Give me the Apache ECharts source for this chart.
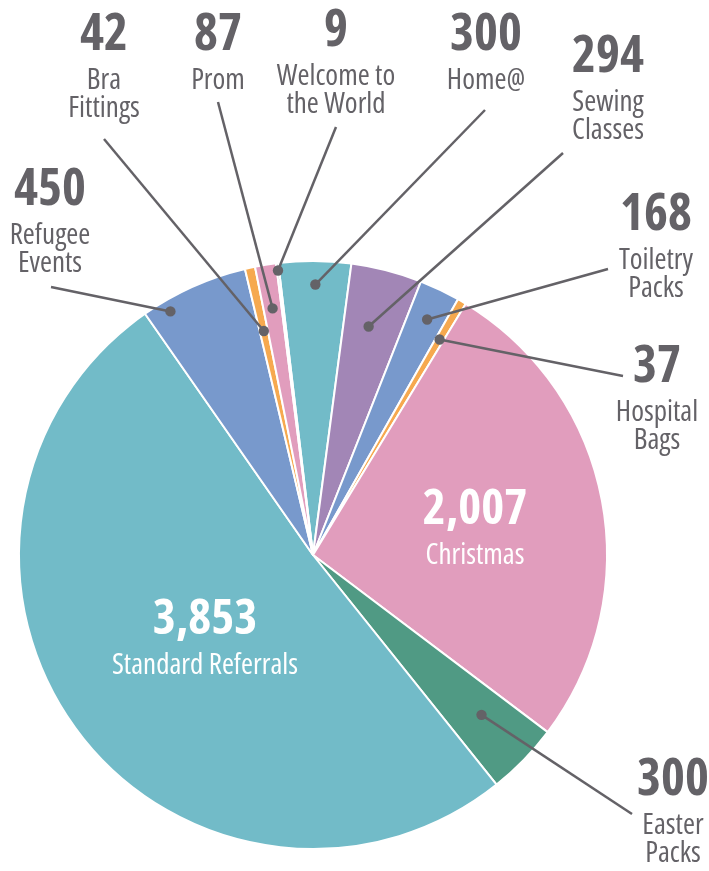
<!DOCTYPE html>
<html><head><meta charset="utf-8">
<script src="https://cdn.jsdelivr.net/npm/echarts@6/dist/echarts.min.js"></script>
<style>html,body{margin:0;padding:0;background:#fff}#c{width:709px;height:871px}</style>
</head><body><div id="c"></div>
<script>
// ---- data ----
const categories = ['Home@','Sewing Classes','Toiletry Packs','Hospital Bags','Christmas','Easter Packs','Standard Referrals','Refugee Events','Bra Fittings','Prom','Welcome to the World'];
const values = [300,294,168,37,2007,300,3853,450,42,87,9];
const labelNames = ['Home@','Sewing\nClasses','Toiletry\nPacks','Hospital\nBags','Christmas','Easter\nPacks','Standard Referrals','Refugee\nEvents','Bra\nFittings','Prom','Welcome to\nthe World'];
const colors = ['#72bbc8','#a286b6','#7899cc','#f6a94f','#e19dbd','#509a84','#72bbc8','#7899cc','#f6a94f','#e19dbd','#509a84'];

// ---- layout (label number centre, leader-line end, dot: [fraction along slice, fraction of radius]) ----
const labelLayoutMap = {
  'Home@':               {num:[486,35],  end:[485,110], dot:[0.51,0.92]},
  'Sewing Classes':      {num:[608,57],  end:[563,153], dot:[0.44,0.80]},
  'Toiletry Packs':      {num:[656,215], end:[608,269], dot:[0.54,0.89]},
  'Hospital Bags':       {num:[657,367], end:[623,376], dot:[0.5,0.85]},
  'Christmas':           {num:[475,510], inside:true},
  'Easter Packs':        {num:[673,780], end:[632,814], dot:[0.45,0.79]},
  'Standard Referrals':  {num:[205,620], inside:true},
  'Refugee Events':      {num:[50,190],  end:[51,287],  dot:[0.21,0.96]},
  'Bra Fittings':        {num:[104,35],  end:[104,139], dot:[0.5,0.78]},
  'Prom':                {num:[218,35],  end:[218,102], dot:[0.5,0.85]},
  'Welcome to the World':{num:[336,31],  end:[336,127], dot:[0.5,0.975]}
};

const FONT = "'Open Sans','Noto Sans',sans-serif";
const STRETCH = 'condensed';
const GREY = '#646267';
const chart = echarts.init(document.getElementById('c'), null, {renderer:'canvas'});

function dotPoint(i){
  const L = labelLayoutMap[categories[i]];
  const data = chart.getModel().getSeriesByIndex(0).getData();
  const ly = data.getItemLayout(i);
  const a = ly.startAngle + L.dot[0]*(ly.endAngle - ly.startAngle);
  const rr = ly.r * L.dot[1];
  return [ly.cx + rr*Math.cos(a), ly.cy + rr*Math.sin(a)];
}

const option = {
  backgroundColor:'#fff',
  animation:false,
  series:[{
    type:'pie',
    center:[313,555],
    radius:[0,294],
    startAngle:96.8,
    clockwise:true,
    avoidLabelOverlap:false,
    emphasis:{disabled:true},
    itemStyle:{borderColor:'#fff', borderWidth:2},
    label:{
      show:true,
      position:'outside',
      formatter:function(p){
        const L = labelLayoutMap[p.name];
        const v = p.value.toLocaleString('en-US');
        const n = labelNames[p.dataIndex];
        return L.inside ? '{vi|'+v+'}\n{ni|'+n+'}' : '{v|'+v+'}\n{n|'+n+'}';
      },
      rich:{
        v:{fontFamily:FONT, fontStyle:STRETCH, fontSize:51, fontWeight:'bold', lineHeight:64, color:GREY},
        n:{fontFamily:FONT, fontStyle:STRETCH, fontSize:29, fontWeight:500, lineHeight:28, color:GREY},
        vi:{fontFamily:FONT, fontStyle:STRETCH, fontSize:49, fontWeight:'bold', lineHeight:64, color:'#fff'},
        ni:{fontFamily:FONT, fontStyle:STRETCH, fontSize:29, fontWeight:500, lineHeight:28, color:'#fff'}
      }
    },
    labelLine:{show:false},
    labelLayout:function(p){
      const L = labelLayoutMap[categories[p.dataIndex]];
      return {x:L.num[0], y:L.num[1]-32, align:'center', verticalAlign:'top'};
    },
    data: categories.map(function(c,i){
      const L = labelLayoutMap[c];
      const item = {name:c, value:values[i], itemStyle:{color:colors[i]}};
      if(L.inside){ item.label = {position:'inside'}; }
      return item;
    })
  }]
};
chart.setOption(option);

// leader lines and dots drawn over the slices, placed from the pie's own layout
const marks = [];
categories.forEach(function(c,i){
  const L = labelLayoutMap[c];
  if(L.inside) return;
  const p = dotPoint(i);
  marks.push({type:'polyline', z:100, silent:true, shape:{points:[p, L.end]}, style:{stroke:GREY, lineWidth:2.5, fill:null}});
  marks.push({type:'circle', z:101, silent:true, shape:{cx:p[0], cy:p[1], r:5.2}, style:{fill:GREY}});
});
chart.setOption({graphic:marks});
</script>
</body></html>
